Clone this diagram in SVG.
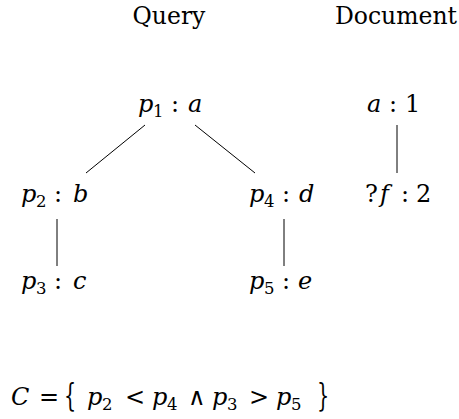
<svg xmlns="http://www.w3.org/2000/svg" width="459" height="419" viewBox="0 0 459 419">
<style>
text{font-family:'DejaVu Serif',serif;font-size:24px;fill:#000}
.t{font-size:23.5px}
.i{font-style:italic}
.s{font-size:16.5px}
line{stroke:#000;stroke-width:1}
</style>
<rect width="459" height="419" fill="#fff"/>
<g id="titles">
<text class="t" x="169" y="24" text-anchor="middle">Query</text>
<text class="t" x="396" y="24" text-anchor="middle">Document</text>
</g>
<g id="connectors">
<line x1="145" y1="125" x2="86" y2="173"/>
<line x1="195" y1="125" x2="255" y2="173"/>
<line x1="57" y1="219" x2="57" y2="266"/>
<line x1="284" y1="219" x2="284" y2="266"/>
<line x1="397" y1="125" x2="397" y2="173"/>
</g>
<g id="p1"><text y="112"><tspan class="i" x="138">p</tspan><tspan class="s" x="153" dy="5">1</tspan><tspan x="171" dy="-5">:</tspan><tspan class="i" x="188">a</tspan></text></g>
<g id="p2"><text y="202"><tspan class="i" x="21">p</tspan><tspan class="s" x="36" dy="5">2</tspan><tspan x="54" dy="-5">:</tspan><tspan class="i" x="73">b</tspan></text></g>
<g id="p3"><text y="289"><tspan class="i" x="21">p</tspan><tspan class="s" x="36" dy="5">3</tspan><tspan x="54" dy="-5">:</tspan><tspan class="i" x="73">c</tspan></text></g>
<g id="p4"><text y="202"><tspan class="i" x="249">p</tspan><tspan class="s" x="264" dy="5">4</tspan><tspan x="282" dy="-5">:</tspan><tspan class="i" x="299">d</tspan></text></g>
<g id="p5"><text y="289"><tspan class="i" x="249">p</tspan><tspan class="s" x="264" dy="5">5</tspan><tspan x="282" dy="-5">:</tspan><tspan class="i" x="298">e</tspan></text></g>
<g id="d1"><text y="112"><tspan class="i" x="367">a</tspan><tspan x="389">:</tspan><tspan x="405">1</tspan></text></g>
<g id="d2"><text y="202"><tspan x="365">?</tspan><tspan class="i" x="380">f</tspan><tspan x="401">:</tspan><tspan x="416">2</tspan></text></g>
<g id="constraint">
<text y="405"><tspan class="i" x="11">C</tspan><tspan x="39">=</tspan><tspan class="i" x="87">p</tspan><tspan class="s" x="102" dy="5">2</tspan><tspan x="125" dy="-5">&lt;</tspan><tspan class="i" x="152">p</tspan><tspan class="s" x="167" dy="5">4</tspan><tspan x="188" dy="-5">∧</tspan><tspan class="i" x="212">p</tspan><tspan class="s" x="227" dy="5">3</tspan><tspan x="249" dy="-5">&gt;</tspan><tspan class="i" x="276">p</tspan><tspan class="s" x="291" dy="5">5</tspan></text>
<text transform="translate(64,406) scale(0.8,1.3)">{</text>
<text transform="translate(317,406) scale(0.8,1.3)">}</text>
</g>
</svg>
